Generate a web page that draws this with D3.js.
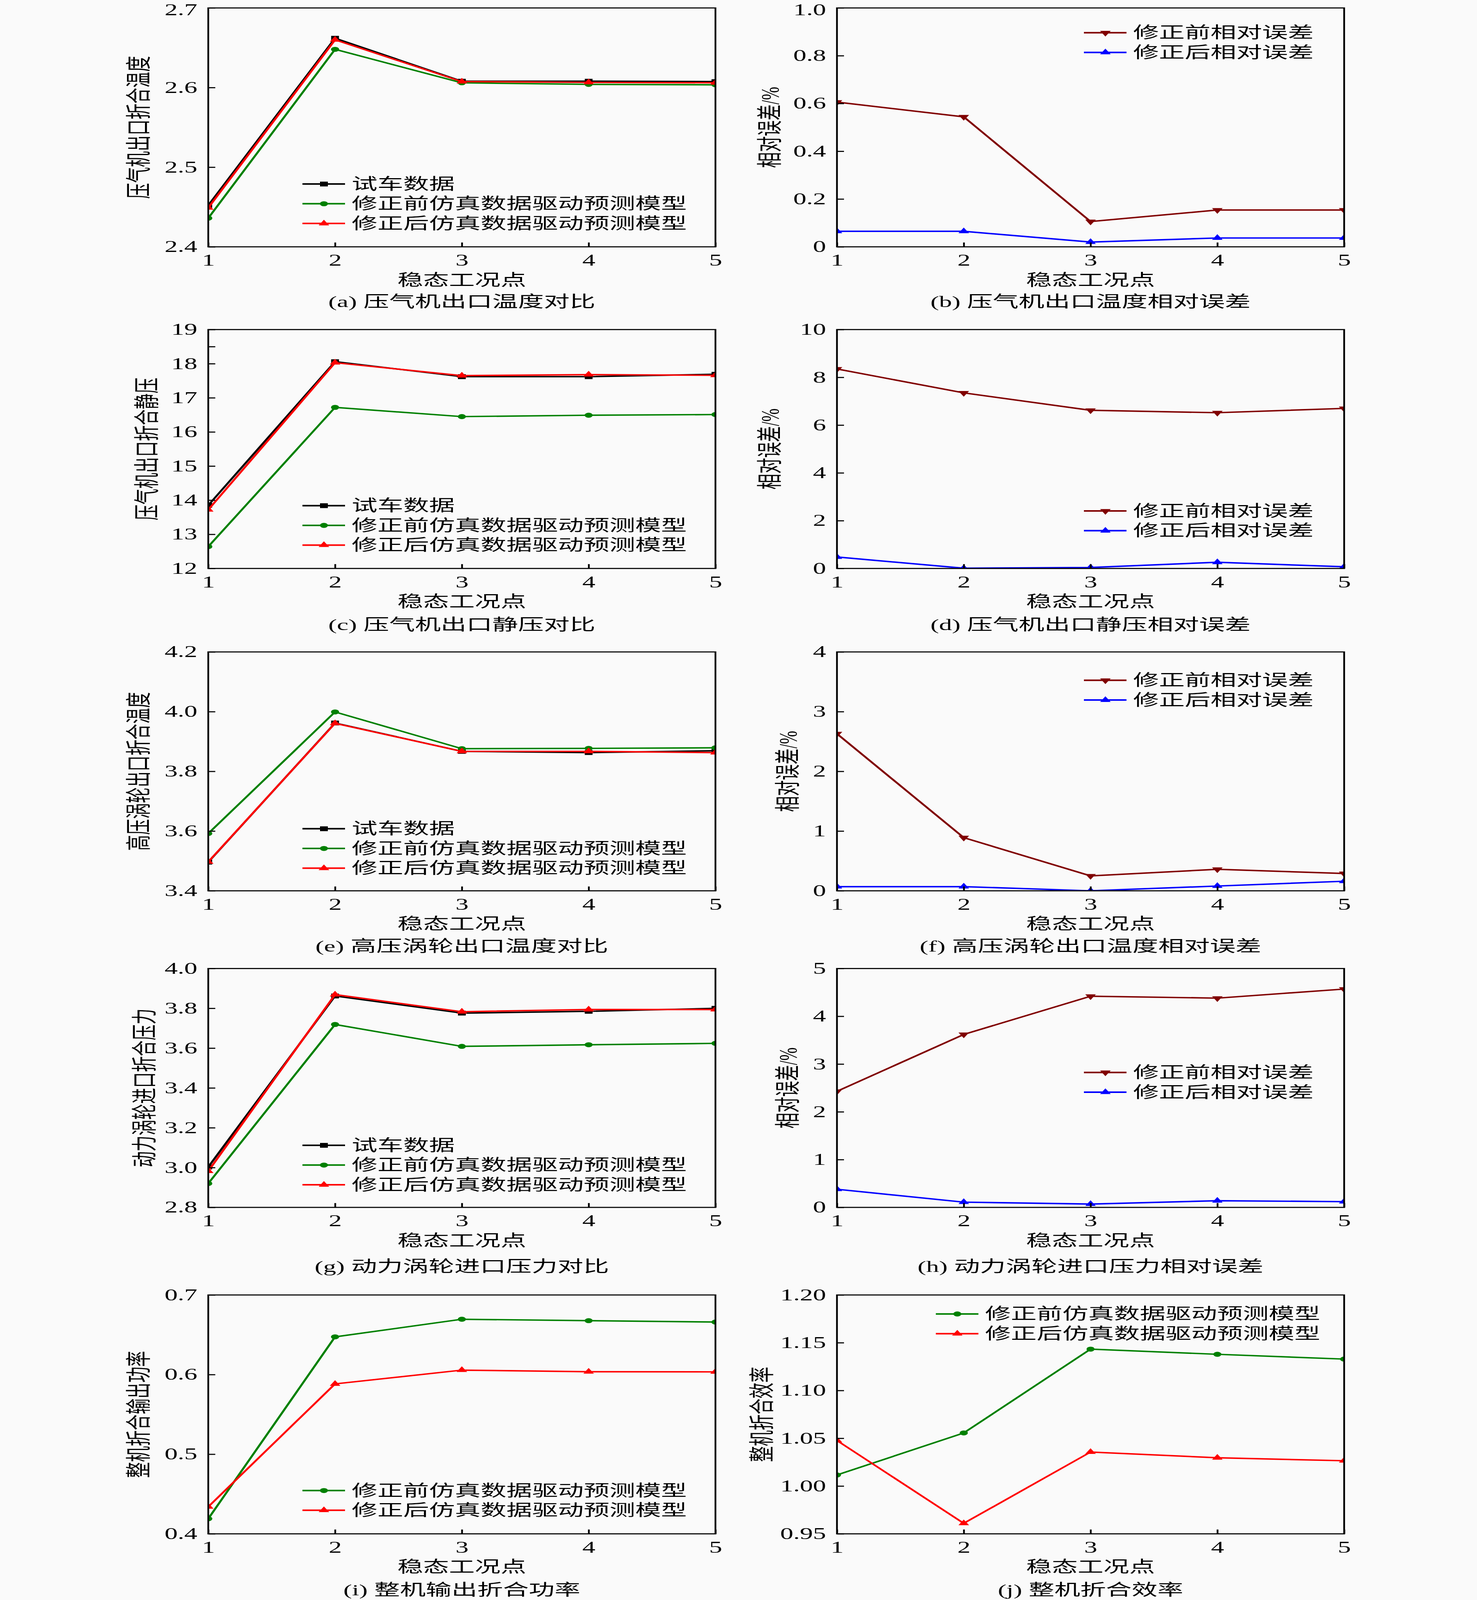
<!DOCTYPE html>
<html>
<head>
<meta charset="utf-8">
<script src="https://cdn.jsdelivr.net/npm/d3@7"></script>
<style>
  html, body { margin: 0; padding: 0; overflow: hidden; background: #fafafa; }
  svg { display: block; }
  text { font-family: 'Liberation Serif', 'Noto Sans CJK SC', serif; fill: #000; }
</style>
</head>
<body>
<svg id="chart"></svg>
<script>
// layout is laid out in the reference's 3780 x 6651 space
const W = 3780
const H = 6651

const points = [1, 2, 3, 4, 5]
const xTitle = '稳态工况点'
const nameTest = '试车数据'
const nameBefore = '修正前仿真数据驱动预测模型'
const nameAfter = '修正后仿真数据驱动预测模型'
const nameErrBefore = '修正前相对误差'
const nameErrAfter = '修正后相对误差'

// (a) compressor outlet temperature
const aTicks = ['2.4', '2.5', '2.6', '2.7']
const aTest = [2.452, 2.662, 2.608, 2.608, 2.6075]
const aBefore = [2.436, 2.648, 2.606, 2.604, 2.6035]
const aAfter = [2.449, 2.660, 2.6075, 2.6065, 2.606]

// (b) its relative error
const bTicks = ['0', '0.2', '0.4', '0.6', '0.8', '1.0']
const bErrBefore = [0.606, 0.544, 0.106, 0.154, 0.154]
const bErrAfter = [0.065, 0.065, 0.020, 0.037, 0.037]

// (c) compressor outlet static pressure
const cTicks = ['12', '13', '14', '15', '16', '17', '18', '19']
const cExtraTicks = [18.5]
const cTest = [13.85, 18.06, 17.62, 17.62, 17.69]
const cBefore = [12.64, 16.72, 16.45, 16.49, 16.51]
const cAfter = [13.72, 18.03, 17.65, 17.68, 17.66]

// (d)
const dTicks = ['0', '2', '4', '6', '8', '10']
const dErrBefore = [8.35, 7.35, 6.62, 6.52, 6.70]
const dErrAfter = [0.48, 0.01, 0.04, 0.26, 0.07]

// (e) HP turbine outlet temperature
const eTicks = ['3.4', '3.6', '3.8', '4.0', '4.2']
const eTest = [3.496, 3.962, 3.867, 3.863, 3.869]
const eBefore = [3.592, 3.999, 3.876, 3.877, 3.879]
const eAfter = [3.497, 3.961, 3.867, 3.867, 3.863]

// (f)
const fTicks = ['0', '1', '2', '3', '4']
const fErrBefore = [2.63, 0.89, 0.25, 0.36, 0.29]
const fErrAfter = [0.07, 0.07, 0.0, 0.08, 0.16]

// (g) power turbine inlet pressure
const gTicks = ['2.8', '3.0', '3.2', '3.4', '3.6', '3.8', '4.0']
const gTest = [3.003, 3.862, 3.776, 3.785, 3.800]
const gBefore = [2.920, 3.719, 3.609, 3.617, 3.624]
const gAfter = [2.982, 3.869, 3.783, 3.794, 3.794]

// (h)
const hTicks = ['0', '1', '2', '3', '4', '5']
const hErrBefore = [2.43, 3.62, 4.42, 4.38, 4.57]
const hErrAfter = [0.38, 0.11, 0.07, 0.14, 0.12]

// (i) output power
const iTicks = ['0.4', '0.5', '0.6', '0.7']
const iBefore = [0.419, 0.6474, 0.6695, 0.6677, 0.666]
const iAfter = [0.434, 0.5883, 0.6056, 0.6036, 0.6034]

// (j) efficiency
const jTicks = ['0.95', '1.00', '1.05', '1.10', '1.15', '1.20']
const jBefore = [1.0116, 1.0556, 1.1433, 1.1379, 1.1329]
const jAfter = [1.0477, 0.961, 1.0356, 1.0296, 1.0265]

const styles = {
  test:      { color: '#000000', symbol: 'square' },
  before:    { color: '#008000', symbol: 'circle' },
  after:     { color: '#ff0000', symbol: 'up' },
  errBefore: { color: '#800000', symbol: 'down' },
  errAfter:  { color: '#0000ff', symbol: 'up' }
}

const colX = [533, 2142]
const rowY = [33, 1370, 2710, 4026, 5383]
const plotW = 1298
const plotH = 993
const captionGap = [228, 234, 230, 246, 233]

const panels = [
  { row: 0, col: 0, ticks: aTicks, ylabel: '压气机出口折合温度', ylabX: -177, cap: '(a) 压气机出口温度对比',
    series: [['test', nameTest, aTest], ['before', nameBefore, aBefore], ['after', nameAfter, aAfter]], leg: [241, 732] },
  { row: 0, col: 1, ticks: bTicks, ylabel: '相对误差/%', ylabX: -171, cap: '(b) 压气机出口温度相对误差',
    series: [['errBefore', nameErrBefore, bErrBefore], ['errAfter', nameErrAfter, bErrAfter]], leg: [632, 103] },
  { row: 1, col: 0, ticks: cTicks, extra: cExtraTicks, ylabel: '压气机出口折合静压', ylabX: -156, cap: '(c) 压气机出口静压对比',
    series: [['test', nameTest, cTest], ['before', nameBefore, cBefore], ['after', nameAfter, cAfter]], leg: [241, 732] },
  { row: 1, col: 1, ticks: dTicks, ylabel: '相对误差/%', ylabX: -171, cap: '(d) 压气机出口静压相对误差',
    series: [['errBefore', nameErrBefore, dErrBefore], ['errAfter', nameErrAfter, dErrAfter]], leg: [632, 754] },
  { row: 2, col: 0, ticks: eTicks, ylabel: '高压涡轮出口折合温度', ylabX: -177, cap: '(e) 高压涡轮出口温度对比',
    series: [['test', nameTest, eTest], ['before', nameBefore, eBefore], ['after', nameAfter, eAfter]], leg: [241, 735] },
  { row: 2, col: 1, ticks: fTicks, ylabel: '相对误差/%', ylabX: -125, cap: '(f) 高压涡轮出口温度相对误差',
    series: [['errBefore', nameErrBefore, fErrBefore], ['errAfter', nameErrAfter, fErrAfter]], leg: [632, 118] },
  { row: 3, col: 0, ticks: gTicks, ylabel: '动力涡轮进口折合压力', ylabX: -162, cap: '(g) 动力涡轮进口压力对比',
    series: [['test', nameTest, gTest], ['before', nameBefore, gBefore], ['after', nameAfter, gAfter]], leg: [241, 735] },
  { row: 3, col: 1, ticks: hTicks, ylabel: '相对误差/%', ylabX: -125, cap: '(h) 动力涡轮进口压力相对误差',
    series: [['errBefore', nameErrBefore, hErrBefore], ['errAfter', nameErrAfter, hErrAfter]], leg: [632, 432] },
  { row: 4, col: 0, ticks: iTicks, ylabel: '整机折合输出功率', ylabX: -177, cap: '(i) 整机输出折合功率',
    series: [['before', nameBefore, iBefore], ['after', nameAfter, iAfter]], leg: [241, 813] },
  { row: 4, col: 1, ticks: jTicks, ylabel: '整机折合效率', ylabX: -191, cap: '(j) 整机折合效率',
    series: [['before', nameBefore, jBefore], ['after', nameAfter, jAfter]], leg: [253, 79] }
]

// the real window can be shorter than the page asked for, so map the
// whole figure onto whatever viewport we actually get
const vw = window.innerWidth || W
const vh = window.innerHeight || H

const svg = d3.select('#chart')
  .attr('width', vw)
  .attr('height', vh)
  .attr('viewBox', `0 0 ${W} ${H}`)
  .attr('preserveAspectRatio', 'none')

svg.append('rect').attr('width', W).attr('height', H).attr('fill', '#fafafa')

function symbolPath(kind) {
  if (kind === 'square') return d3.symbol(d3.symbolSquare, 400)()
  if (kind === 'circle') return d3.symbol(d3.symbolCircle, 340)()
  return d3.symbol(d3.symbolTriangle, 320)()
}

function placeMarker(sel, kind, x, y) {
  sel.append('path')
    .attr('d', symbolPath(kind))
    .attr('transform', `translate(${x},${y})` + (kind === 'down' ? ' rotate(180)' : ''))
}

panels.forEach((p, idx) => {
  const left = colX[p.col]
  const top = rowY[p.row]
  const g = svg.append('g').attr('transform', `translate(${left},${top})`)

  const tickVals = p.ticks.map(Number)
  const x = d3.scaleLinear().domain([1, 5]).range([0, plotW])
  const y = d3.scaleLinear().domain(d3.extent(tickVals)).range([plotH, 0])

  const clipId = 'clip' + idx
  g.append('clipPath').attr('id', clipId)
    .append('rect').attr('width', plotW).attr('height', plotH)

  // data
  const plot = g.append('g').attr('clip-path', `url(#${clipId})`)
  p.series.forEach(([key, , values]) => {
    const st = styles[key]
    const pts = points.map((d, i) => [d, values[i]])
    plot.append('path')
      .datum(pts)
      .attr('fill', 'none')
      .attr('stroke', st.color)
      .attr('stroke-width', 6)
      .attr('stroke-linejoin', 'round')
      .attr('d', d3.line().x(d => x(d[0])).y(d => y(d[1])))
    const mk = plot.append('g').attr('fill', st.color)
    pts.forEach(d => placeMarker(mk, st.symbol, x(d[0]), y(d[1])))
  })

  // axes, inward ticks
  const yAxis = d3.axisLeft(y)
    .tickValues(tickVals.concat(p.extra || []))
    .tickFormat(v => {
      const k = tickVals.indexOf(v)
      return k >= 0 ? p.ticks[k] : ''
    })
    .tickSizeInner(-18).tickSizeOuter(0).tickPadding(28)
  const ya = g.append('g').call(yAxis)
  ya.select('.domain').remove()
  ya.selectAll('line').attr('stroke', '#000').attr('stroke-width', 4.5)
  ya.selectAll('text').attr('font-size', 67).attr('font-family', null)
  // keep the topmost label of the first row inside the page
  if (p.row === 0) {
    ya.selectAll('.tick').filter(v => v === d3.max(tickVals)).select('text').attr('y', 8)
  }

  const xAxis = d3.axisBottom(x)
    .tickValues(points)
    .tickFormat(d3.format('d'))
    .tickSizeInner(-18).tickSizeOuter(0).tickPadding(31)
  const xa = g.append('g').attr('transform', `translate(0,${plotH})`).call(xAxis)
  xa.select('.domain').remove()
  xa.selectAll('line').attr('stroke', '#000').attr('stroke-width', 4.5)
  xa.selectAll('text').attr('font-size', 67).attr('font-family', null)

  g.append('rect')
    .attr('width', plotW).attr('height', plotH)
    .attr('fill', 'none').attr('stroke', '#000').attr('stroke-width', 4.5)

  // titles
  g.append('text')
    .attr('transform', `translate(${p.ylabX},${plotH / 2}) rotate(-90)`)
    .attr('text-anchor', 'middle')
    .attr('dominant-baseline', 'central')
    .attr('font-size', 66)
    .text(p.ylabel)

  g.append('text')
    .attr('x', plotW / 2).attr('y', plotH + 138)
    .attr('text-anchor', 'middle')
    .attr('dominant-baseline', 'central')
    .attr('font-size', 66)
    .text(xTitle)

  g.append('text')
    .attr('x', plotW / 2).attr('y', plotH + captionGap[p.row])
    .attr('text-anchor', 'middle')
    .attr('dominant-baseline', 'central')
    .attr('font-size', 66)
    .text(p.cap)

  // legend
  const leg = g.append('g').attr('transform', `translate(${p.leg[0]},${p.leg[1]})`)
  p.series.forEach(([key, name], i) => {
    const st = styles[key]
    const row = leg.append('g').attr('transform', `translate(0,${i * 82})`)
    row.append('line')
      .attr('x1', 0).attr('x2', 109).attr('y1', 0).attr('y2', 0)
      .attr('stroke', st.color).attr('stroke-width', 6.5)
    const mk = row.append('g').attr('fill', st.color)
    placeMarker(mk, st.symbol, 55, 0)
    row.append('text')
      .attr('x', 126).attr('y', 0)
      .attr('dominant-baseline', 'central')
      .attr('font-size', 66)
      .text(name)
  })
})
</script>
</body>
</html>
